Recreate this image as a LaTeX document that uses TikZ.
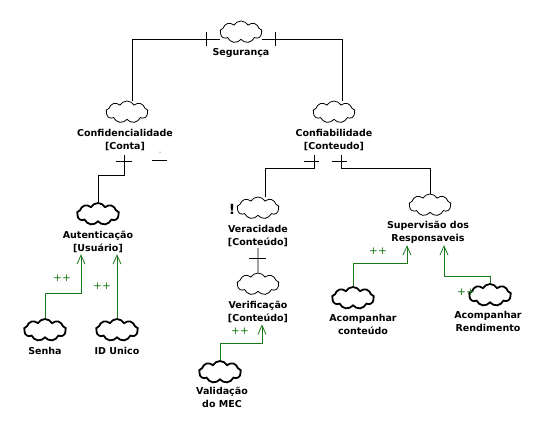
\documentclass[tikz,border=0pt]{standalone}
\usepackage{fontspec}
\setmainfont{DejaVu Sans}
\usetikzlibrary{shapes.symbols,positioning,arrows.meta}
\definecolor{linkgreen}{RGB}{25,120,25}

\begin{document}
\begin{tikzpicture}[x=1pt,y=-1pt,line width=0.8pt,
    nuvem/.style={cloud,cloud puffs=9,cloud puff arc=120,aspect=2,draw,
      line width=0.8pt,minimum width=42pt,minimum height=22pt,inner sep=0pt},
    nuvemforte/.style={nuvem,line width=1.8pt},
    rotulo/.style={font=\bfseries\fontsize{9.5}{13}\selectfont,align=center,inner sep=1pt},
    mais/.style={font=\fontsize{10.5}{10}\selectfont,text=linkgreen,inner sep=0pt},
    contrib/.style={draw=linkgreen,line width=0.8pt,-{Straight Barb[length=9pt,width=8pt]}}]
     \useasboundingbox (0,0) rectangle (559,429);
     % topo
     \node[nuvem] (seg) at (241,32) {};
     \node[rotulo,below=7pt of seg] (seglbl) {Segurança};
     % ramos principais
     \node[nuvem] (confid) at (127,112) {};
     \node[rotulo,below=8pt of confid,xshift=-2pt] (confidlbl) {Confidencialidade\\{[Conta]}};
     \node[nuvem] (confiab) at (334,112) {};
     \node[rotulo,below=8pt of confiab] (confiablbl) {Confiabilidade\\{[Conteudo]}};
     % confidencialidade
     \node[nuvemforte] (auth) at (98,214) {};
     \node[rotulo,below=7pt of auth] (authlbl) {Autenticação\\{[Usuário]}};
     \node[nuvemforte] (senha) at (45,330) {};
     \node[rotulo,below=7pt of senha] (senhalbl) {Senha};
     \node[nuvemforte] (idu) at (117,330) {};
     \node[rotulo,below=7pt of idu] (idulbl) {ID Unico};
     % confiabilidade
     \node[nuvem] (verac) at (258,208) {};
     \node[rotulo,below=8pt of verac] (veraclbl) {Veracidade\\{[Conteúdo]}};
     \node[font=\bfseries\fontsize{14}{14}\selectfont,inner sep=0pt] (excl) at (232,209) {!};
     \node[nuvem] (verif) at (258,284) {};
     \node[rotulo,below=8pt of verif] (veriflbl) {Verificação\\{[Conteúdo]}};
     \node[nuvemforte] (valid) at (220,372) {};
     \node[rotulo,below=5pt of valid,xshift=2pt] (validlbl) {Validação\\do MEC};
     \node[nuvem] (superv) at (430,205) {};
     \node[rotulo,below=7pt of superv,xshift=-2pt] (supervlbl) {Supervisão dos\\Responsaveis};
     \node[nuvemforte] (acc) at (353,298) {};
     \node[rotulo,below=6pt of acc,xshift=10pt] (acclbl) {Acompanhar\\conteúdo};
     \node[nuvemforte] (acr) at (490,295) {};
     \node[rotulo,below=6pt of acr,xshift=-2pt] (acrlbl) {Acompanhar\\Rendimento};
     % ligacoes
     \draw ([yshift=-7pt]seg.west) -| ([xshift=5pt]confid.north);
     \draw ([yshift=-7pt]seg.east) -| ([xshift=8pt]confiab.north);
     \draw (206,32) -- (206,46);
     \draw (275,32) -- (275,46);
     \draw (confidlbl.south) ++(-1,3) -- ++(0,20) -| (auth.north);
     \draw (116,161) -- (132,161);
     \draw (152,160) -- (167,160);
     \fill (160,152) circle (0.5);
     \draw (confiablbl.south) ++(-20,3) -- ++(0,13) -| ([xshift=7pt]verac.north);
     \draw (confiablbl.south) ++(7,3) -- ++(0,13) -| (superv.north);
     \draw (304,161) -- (319,161);
     \draw (332,161) -- (347,161);
     \draw (veraclbl.south) -- (verif.north);
     \draw (249,258) -- (266,258);
     % contribuicoes
     \draw[contrib] (senha.north) -- ++(0,-25) -| ([xshift=-17pt]authlbl.south);
     \draw[contrib] (idu.north) -- (idu.north |- authlbl.south);
     \draw[contrib] (valid.north) -- ++(0,-17) -| ([xshift=4pt]veriflbl.south);
     \draw[contrib] (acc.north) -- ++(0,-23) -| ([xshift=-21pt]supervlbl.south);
     \draw[contrib] (acr.north) -- ++(0,-7) -| ([xshift=16pt]supervlbl.south);
     \node[mais] (m1) at (62,278) {++};
     \node[mais] (m2) at (102,286) {++};
     \node[mais] (m3) at (240,331) {++};
     \node[mais] (m4) at (378,251) {++};
     \node[mais] (m5) at (466,292) {++};
\end{tikzpicture}
\end{document}
